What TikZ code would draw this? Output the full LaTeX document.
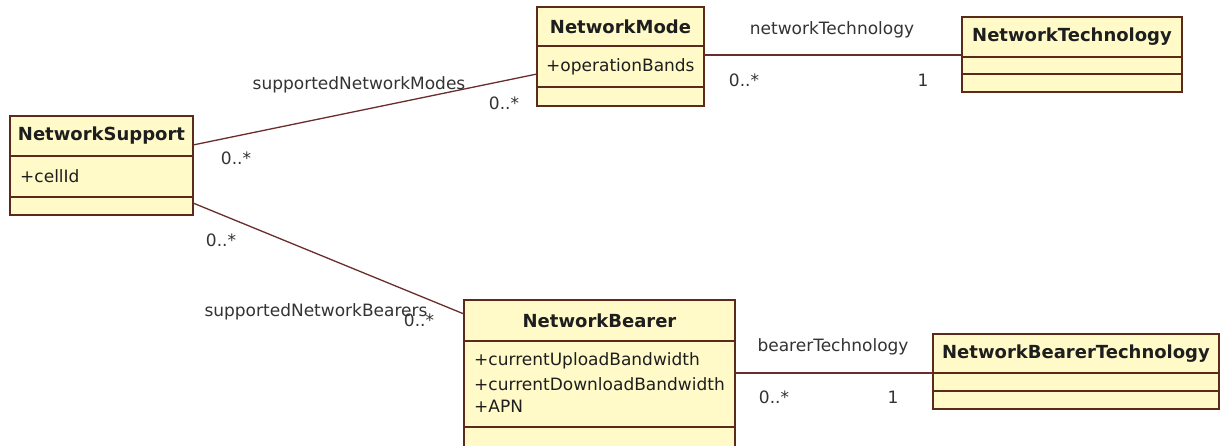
\documentclass[tikz,border=0pt]{standalone}
\usepackage{fontspec}
\setmainfont{DejaVu Sans}
\usetikzlibrary{fit}

\definecolor{classfill}{HTML}{FFFAC8}
\definecolor{classedge}{HTML}{5B2A1A}
\definecolor{assoc}{HTML}{6B2C2C}
\definecolor{ink}{HTML}{1E1E1E}
\definecolor{labelink}{HTML}{333333}

\tikzset{
  classbox/.style={draw=classedge, fill=classfill, line width=1.4pt, inner sep=0pt, outer sep=0pt},
  divider/.style={draw=classedge, line width=1.4pt},
  classtitle/.style={font=\fontsize{18}{21}\selectfont\bfseries, text=ink, inner sep=0pt},
  attr/.style={font=\fontsize{17}{20}\selectfont, text=ink, inner sep=0pt, anchor=west},
  role/.style={font=\fontsize{17}{20}\selectfont, text=labelink, inner sep=0pt},
  mult/.style={font=\fontsize{17}{20}\selectfont, text=labelink, inner sep=0pt},
  link/.style={draw=assoc, line width=1.3pt},
}

\begin{document}
\begin{tikzpicture}[x=1pt, y=-1pt]
  \useasboundingbox (0,0) rectangle (1222,445);
  \fill[white] (0,0) rectangle (1222,445);

  % ---- NetworkSupport ----
  \node[classbox, fit={(10,116) (193,215)}] (ns) {};
  \draw[divider] (ns.west |- 0,156) -- (ns.east |- 0,156);
  \draw[divider] (ns.west |- 0,197) -- (ns.east |- 0,197);
  \node[classtitle] (ns-t) at (101.5,136) {NetworkSupport};
  \node[attr] (ns-a1) at (20,176) {+cellId};

  % ---- NetworkMode ----
  \node[classbox, fit={(537,7) (704,106)}] (nm) {};
  \draw[divider] (nm.west |- 0,46) -- (nm.east |- 0,46);
  \draw[divider] (nm.west |- 0,87) -- (nm.east |- 0,87);
  \node[classtitle] (nm-t) at (620.5,26.5) {NetworkMode};
  \node[attr] (nm-a1) at (546,66.5) {+operationBands};

  % ---- NetworkTechnology ----
  \node[classbox, fit={(962,17) (1182,92)}] (nt) {};
  \draw[divider] (nt.west |- 0,57) -- (nt.east |- 0,57);
  \draw[divider] (nt.west |- 0,74) -- (nt.east |- 0,74);
  \node[classtitle] (nt-t) at (1072,37) {NetworkTechnology};

  % ---- NetworkBearer ----
  \node[classbox, fit={(464,300) (735,460)}] (nb) {};
  \draw[divider] (nb.west |- 0,341) -- (nb.east |- 0,341);
  \draw[divider] (nb.west |- 0,427) -- (nb.east |- 0,427);
  \node[classtitle] (nb-t) at (599.5,320.5) {NetworkBearer};
  \node[attr] (nb-a1) at (474,361) {+currentUploadBandwidth};
  \node[attr] (nb-a2) at (474,384) {+currentDownloadBandwidth};
  \node[attr] (nb-a3) at (474,406) {+APN};

  % ---- NetworkBearerTechnology ----
  \node[classbox, fit={(933,334) (1219,409)}] (nbt) {};
  \draw[divider] (nbt.west |- 0,373) -- (nbt.east |- 0,373);
  \draw[divider] (nbt.west |- 0,391) -- (nbt.east |- 0,391);
  \node[classtitle] (nbt-t) at (1076,353.5) {NetworkBearerTechnology};

  % ---- association end points ----
  \coordinate (ns-modes)   at (ns.east |- 0,145);
  \coordinate (nm-support) at (nm.west |- 0,74);
  \coordinate (ns-bearers) at (ns.east |- 0,203);
  \coordinate (nb-support) at (nb.west |- 0,314);
  \coordinate (nm-tech)    at (nm.east |- 0,55);
  \coordinate (nt-mode)    at (nt.west |- 0,55);
  \coordinate (nb-tech)    at (nb.east |- 0,373);
  \coordinate (nbt-bearer) at (nbt.west |- 0,373);

  % ---- associations ----
  \draw[link] (ns-modes) -- (nm-support);
  \draw[link] (ns-bearers) -- (nb-support);
  \draw[link] (nm-tech) -- (nt-mode);
  \draw[link] (nb-tech) -- (nbt-bearer);

  % ---- role names and multiplicities ----
  \node[role] (r-modes) at (359,85) {supportedNetworkModes};
  \node[mult] (m-modes-nm) at (504,103) {0..*};
  \node[mult] (m-modes-ns) at (236,158) {0..*};

  \node[role] (r-bearers) at (316,312) {supportedNetworkBearers};
  \node[mult] (m-bearers-ns) at (221,240) {0..*};
  \node[mult] (m-bearers-nb) at (419,320) {0..*};

  \node[role] (r-ntech) at (832,30) {networkTechnology};
  \node[mult] (m-ntech-nm) at (744,80) {0..*};
  \node[mult] (m-ntech-nt) at (923,80) {1};

  \node[role] (r-btech) at (833,347) {bearerTechnology};
  \node[mult] (m-btech-nb) at (774,397) {0..*};
  \node[mult] (m-btech-nbt) at (893,397) {1};
\end{tikzpicture}
\end{document}
